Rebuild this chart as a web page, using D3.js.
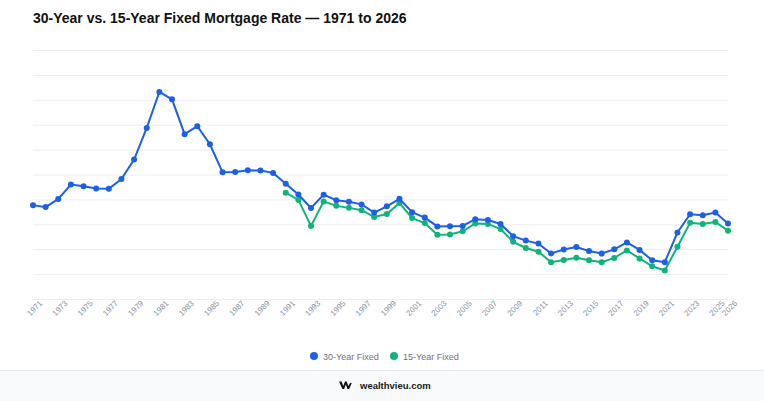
<!DOCTYPE html>
<html>
<head>
<meta charset="utf-8">
<script src="https://cdn.jsdelivr.net/npm/d3@7"></script>
<style>
  body { margin: 0; background: #fff; font-family: "Liberation Sans", Arial, Helvetica, sans-serif; }
</style>
</head>
<body>
<div id="chart"></div>
<script>
// Chart data (annual averages, %)
const years = d3.range(1971, 2027);
const rate30 = [7.54, 7.38, 8.04, 9.19, 9.05, 8.87, 8.85, 9.64, 11.20, 13.74,
  16.63, 16.04, 13.24, 13.88, 12.43, 10.19, 10.21, 10.34, 10.32, 10.13,
  9.25, 8.39, 7.31, 8.38, 7.93, 7.81, 7.60, 6.94, 7.44, 8.05,
  6.97, 6.54, 5.83, 5.84, 5.87, 6.41, 6.34, 6.03, 5.04, 4.69,
  4.45, 3.66, 3.98, 4.17, 3.85, 3.65, 3.99, 4.54, 3.94, 3.11,
  2.96, 5.34, 6.81, 6.72, 6.95, 6.07];
const years15 = d3.range(1991, 2027);
const rate15 = [8.54, 7.96, 5.86, 7.84, 7.48, 7.32, 7.13, 6.59, 6.83, 7.72,
  6.50, 6.10, 5.17, 5.19, 5.44, 6.07, 6.03, 5.62, 4.59, 4.10,
  3.80, 2.96, 3.14, 3.31, 3.11, 2.95, 3.30, 3.90, 3.26, 2.63,
  2.29, 4.20, 6.12, 6.02, 6.19, 5.49];
const tickYears = d3.range(1971, 2026, 2).concat([2026]);
const seriesNames = ['30-Year Fixed', '15-Year Fixed'];
const colors = ['#1d5fe8', '#10b47a'];

const W = 764, H = 401;
const margin = { top: 50, right: 36, bottom: 102, left: 33 };
const width = W - margin.left - margin.right;
const height = H - margin.top - margin.bottom;

const svg = d3.select('#chart')
  .append('svg')
  .attr('width', W)
  .attr('height', H);

// Title
svg.append('text')
  .attr('x', 33)
  .attr('y', 23)
  .attr('font-size', 14)
  .attr('font-weight', 'bold')
  .attr('fill', '#111')
  .text('30-Year vs. 15-Year Fixed Mortgage Rate \u2014 1971 to 2026');

const g = svg.append('g')
  .attr('transform', `translate(${margin.left},${margin.top})`);

const x = d3.scaleLinear().domain([1971, 2026]).range([0, width]);
const y = d3.scaleLinear().domain([0, 20]).range([height, 0]);

// gridlines
g.append('g')
  .call(d3.axisLeft(y).tickValues(d3.range(0, 21, 2)).tickSize(-width).tickFormat(''))
  .call(s => s.select('.domain').remove())
  .call(s => s.selectAll('line').attr('stroke', '#eceef2').attr('stroke-width', 1));

// x axis labels
g.append('g')
  .attr('transform', `translate(0,${height})`)
  .call(d3.axisBottom(x).tickValues(tickYears).tickFormat(d3.format('d')).tickSize(0).tickPadding(6))
  .call(s => s.select('.domain').remove())
  .selectAll('text')
  .attr('font-size', 8)
  .attr('fill', '#8a93a3')
  .attr('font-family', '"Liberation Sans", Arial, sans-serif')
  .style('text-anchor', 'end')
  .attr('dx', '0.4em')
  .attr('dy', '0.5em')
  .attr('transform', 'rotate(-45)');

const series = [
  years.map((yr, i) => ({ yr, v: rate30[i] })),
  years15.map((yr, i) => ({ yr, v: rate15[i] }))
];

const line = d3.line().x(d => x(d.yr)).y(d => y(d.v));

series.slice().reverse().forEach((s, j) => {
  const k = series.length - 1 - j;
  g.append('path')
    .datum(s)
    .attr('fill', 'none')
    .attr('stroke', colors[k])
    .attr('stroke-width', 2)
    .attr('d', line);
  g.selectAll(null)
    .data(s)
    .enter()
    .append('circle')
    .attr('cx', d => x(d.yr))
    .attr('cy', d => y(d.v))
    .attr('r', 3)
    .attr('fill', colors[k]);
});

// Legend
const legend = svg.append('g').attr('transform', 'translate(314,356)');
const legX = [0, 80];
seriesNames.forEach((name, i) => {
  legend.append('circle').attr('cx', legX[i]).attr('cy', 0).attr('r', 4).attr('fill', colors[i]);
  legend.append('text')
    .attr('x', legX[i] + 9)
    .attr('y', 3.5)
    .attr('font-size', 9)
    .attr('fill', '#6b7280')
    .text(name);
});

// Footer
svg.append('rect').attr('x', 0).attr('y', 370).attr('width', W).attr('height', 31).attr('fill', '#f8f9fb');
svg.append('line').attr('x1', 0).attr('x2', W).attr('y1', 370.5).attr('y2', 370.5).attr('stroke', '#e6e9ee');
const logo = svg.append('g').attr('transform', 'translate(339,381.5) scale(0.85,0.75)');
logo.append('path')
  .attr('d', 'M0,0 L3,0 L5,6 L7,0 L9,0 L11,6 L13,2 L15,2 L12,10 L10,10 L8,4 L6,10 L4,10 Z')
  .attr('fill', '#111');
svg.append('text')
  .attr('x', 360)
  .attr('y', 388.5)
  .attr('font-size', 9.5)
  .attr('font-weight', 'bold')
  .attr('fill', '#1a1a1a')
  .text('wealthvieu.com');
</script>
</body>
</html>
